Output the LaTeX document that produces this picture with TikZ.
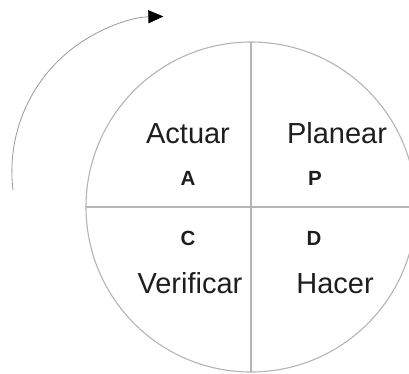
\documentclass[tikz,border=0pt]{standalone}
\usepackage{fontspec}
\setmainfont{Liberation Sans}
\usetikzlibrary{arrows.meta}
\definecolor{linegray}{HTML}{B4B4B4}
\definecolor{arcgray}{HTML}{999999}
\definecolor{txt}{HTML}{1E1E1E}
\begin{document}
\begin{tikzpicture}[x=1pt,y=-1pt,
  word/.style={anchor=base,inner sep=0pt,text=txt,font=\fontsize{29}{34}\selectfont},
  letter/.style={anchor=base,inner sep=0pt,text=txt,font=\fontsize{20.5}{24}\selectfont\bfseries},
  divline/.style={draw=linegray,line width=1.1pt},
  cycle/.style={draw=arcgray,line width=0.8pt,-{Triangle[length=15pt,width=13pt,color=black,fill=black]}}]
\useasboundingbox (0,0) rectangle (409,373);
\clip (0,0) rectangle (409,373);
\coordinate (c) at (251,207);
\coordinate (top) at (251,42);
\coordinate (bot) at (251,372);
\coordinate (lft) at (86,207);
\coordinate (rgt) at (416,207);
\draw[divline] (c) circle[radius=165];
\draw[divline] (top) -- (bot);
\draw[divline] (lft) -- (rgt);
\coordinate (arcstart) at (13,190);
\draw[cycle] (arcstart) arc[start angle=173.1, end angle=268.7, radius=155];
\node[word] (actuar) at (188,143) {Actuar};
\node[word] (planear) at (337,143) {Planear};
\node[word] (verificar) at (190,293) {Verificar};
\node[word] (hacer) at (335,293) {Hacer};
\node[letter] (a) at (188,185) {A};
\node[letter] (p) at (315,185) {P};
\node[letter] (cc) at (188,245) {C};
\node[letter] (d) at (314,245) {D};
\end{tikzpicture}
\end{document}
